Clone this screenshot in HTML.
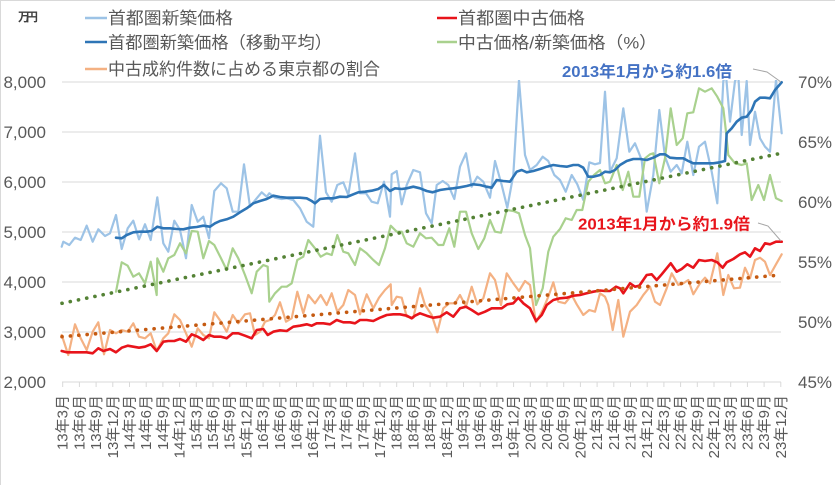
<!DOCTYPE html>
<html><head><meta charset="utf-8"><style>
html,body{margin:0;padding:0;background:#fff;}
svg{display:block;}
text{font-family:"Liberation Sans","Noto Sans CJK JP",sans-serif;}
</style></head><body>
<svg width="835" height="485" viewBox="0 0 835 485" xmlns="http://www.w3.org/2000/svg">
<rect x="0" y="0" width="835" height="485" fill="#fff"/>
<line x1="0" y1="0.5" x2="835" y2="0.5" stroke="#d9d9d9" stroke-width="1"/>
<line x1="0.5" y1="0" x2="0.5" y2="485" stroke="#d9d9d9" stroke-width="1"/>
<defs><clipPath id="pc"><rect x="58" y="80" width="730" height="305"/></clipPath></defs>
<g stroke="#d9d9d9" stroke-width="1">
<line x1="62" y1="82" x2="781" y2="82"/>
<line x1="62" y1="132" x2="781" y2="132"/>
<line x1="62" y1="182" x2="781" y2="182"/>
<line x1="62" y1="232" x2="781" y2="232"/>
<line x1="62" y1="282" x2="781" y2="282"/>
<line x1="62" y1="332" x2="781" y2="332"/>
<line x1="62" y1="382" x2="781" y2="382"/>
</g>
<g font-size="17" fill="#595959" text-anchor="end">
<text x="46" y="88">8,000</text>
<text x="46" y="138">7,000</text>
<text x="46" y="188">6,000</text>
<text x="46" y="238">5,000</text>
<text x="46" y="288">4,000</text>
<text x="46" y="338">3,000</text>
<text x="46" y="388">2,000</text>
</g>
<g font-size="17" fill="#595959">
<text x="798" y="88">70%</text>
<text x="798" y="148">65%</text>
<text x="798" y="208">60%</text>
<text x="798" y="268">55%</text>
<text x="798" y="328">50%</text>
<text x="798" y="388">45%</text>
</g>
<text x="18" y="21" font-size="12" font-weight="bold" fill="#404040" textLength="20">万円</text>
<g stroke-width="2.5">
<line x1="85" y1="18" x2="107" y2="18" stroke="#9DC3E6"/>
<line x1="85" y1="42" x2="107" y2="42" stroke="#2E75B6"/>
<line x1="85" y1="69" x2="107" y2="69" stroke="#F4B183"/>
<line x1="437" y1="18" x2="457" y2="18" stroke="#E8141B"/>
<line x1="437" y1="42" x2="457" y2="42" stroke="#A9D18E"/>
</g>
<g font-size="17" fill="#595959">
<text x="108" y="24" textLength="125" lengthAdjust="spacingAndGlyphs">首都圏新築価格</text>
<text x="108" y="48.5" textLength="224" lengthAdjust="spacingAndGlyphs">首都圏新築価格（移動平均）</text>
<text x="108" y="75" textLength="272" lengthAdjust="spacingAndGlyphs">中古成約件数に占める東京都の割合</text>
<text x="458" y="24" textLength="127" lengthAdjust="spacingAndGlyphs">首都圏中古価格</text>
<text x="458" y="48.5" textLength="199" lengthAdjust="spacingAndGlyphs">中古価格/新築価格（%）</text>
</g>
<g clip-path="url(#pc)" fill="none" stroke-linejoin="round" stroke-linecap="round">
<polyline stroke="#9DC3E6" stroke-width="2.2" points="61.7,246.7 63.3,241.7 69.3,245 75,237.7 80.7,240 86.7,225.7 92.7,241.7 98.3,229.3 105,236 110,233.3 116,215 121.7,249 127.7,228.3 133.3,220.7 139,239.3 145,224.3 150.7,240 157.3,197.3 163.3,243.3 168.3,251.7 174.3,220.7 180,230 186,258.3 191.7,205 197.7,221.7 203.3,216.7 209,238.3 214.3,191 221,183.3 226.7,188.3 232.7,211.7 238.3,211.7 244,164.3 250,206.7 256.7,198.3 261.7,192.3 266.7,196.7 269.3,193.3 275,197.7 281.7,199 286.7,198.3 293.3,200 300,208.3 306.7,221.7 313.3,226.7 320,135.7 326,192.3 331.7,201.7 337.3,185 343.3,182.3 348.3,195 355,153.3 360,193.3 366,193.3 371.7,201.7 377.7,203.3 384,181.7 390,216.7 391.7,174.3 396.7,171 401.7,204.3 406.7,185 413.3,170 420,172.3 426,213.3 431.7,223.3 436.7,185 442.7,181 448.3,185 454.3,199 460,166.7 466,153.3 471.7,186.7 477.3,176.7 483.3,181.7 490,197.7 495,161 501.7,185 507.3,207.7 513.3,175 519,80 525,155 530,170 536.7,165 542.7,156.7 548.3,161 554.3,175 560,180 565.7,191.7 571.7,175 577.3,184.3 583.3,200 589.3,162.3 595,164.3 600,163 605,91.7 610,171.7 616.7,158.3 623.3,108.3 629.3,151.7 635,143.3 641.7,160 646.7,211.7 653.3,175 659.3,110 665,156.7 670.7,171.7 676.7,165 681.7,173.3 687.3,141.7 693.3,175 699,146.7 705,141.7 711.7,171.7 717.3,203.3 723.3,81 726,75 730,121.7 735,81 738.3,75 741.7,135 746.7,81 750,145 755,111.7 760,138.3 765,146.7 770,151.7 776,80 781.7,133.3"/>
<polyline stroke="#F4B183" stroke-width="2.2" points="61.7,335 68.3,355 75,324.3 80.7,338.3 86.7,350 92.7,331.7 98.3,322.3 104,354.3 110,330 116,333.3 121.7,330 127.7,331.7 133.3,323.3 139,336.7 145,338.3 150.7,333.3 156.7,351 163.3,338.3 168.3,333.3 174.3,314.3 180,320 186,333.3 191.7,346.7 197.7,328.3 203.3,335 209,338.3 214.3,312.3 221,321.7 226.7,331.7 232.7,315 238.3,323.3 245,314.3 250,313.3 255,335 260,331.7 265,321.7 270,320 275,315 280,302.3 286,321.7 291.7,318.3 297.3,291.7 303.3,313.3 308.3,295 315,303.3 320.7,295 326.7,305 331.7,293.3 337.3,311.7 343.3,305 348.3,290 355,295 360,314.3 366.7,294.3 373.3,308.3 379,297.7 385,290 390.7,284.3 391.7,305 396.7,296.7 401.7,297.7 406.7,316.7 413.3,317.7 420,288.3 425,305 431.7,315 437.3,332.3 443.3,308.3 449.3,303.3 455,303.3 460,295 466,306.7 471.7,286.7 477.3,304.3 483.3,298.3 490,273.3 495,280 501,305 506.7,273.3 513.3,283.3 519,291 525,281 530,285 536,322.3 542.7,310 548.3,296.7 553.3,282.3 558.3,301.7 565,303.3 571.7,295 576.7,304.3 583.3,315 589.3,310 595,311.7 600,293.3 605,296.7 608.3,305 612.7,330 618.3,300 623.3,336.7 630,311.7 636.7,305 643.3,295 650,286.7 655,301.7 660,305 666.7,288.3 671.7,273.3 678.3,285 683.3,283.3 688.3,280 693.3,294.3 700,283.3 705,277.7 710,283.3 717.3,253.3 723.3,295 728.3,275 734,288.3 740,287.7 745,267.7 750,278.3 755,260 760,257.7 765,261.7 770,275 776,264.3 781.7,254.3"/>
<polyline stroke="#A9D18E" stroke-width="2.2" points="116,291.7 121.7,262.3 127.7,265.7 133.3,276.7 139,273.3 145,283.3 150.7,261.7 156.7,295 157.3,258.3 163.3,271.7 168.3,258.3 174.3,255 180,243.3 186,253.3 191.7,231 197.7,231.7 203.3,258.3 209,241 214.3,245 221,258.3 226.7,270 232.7,248.3 238.3,258.3 245,275 251.7,293.3 256.7,271.7 263.3,265 267.7,266.7 269.3,301.7 275,293.3 281.7,286.7 286.7,286.7 291.7,283.3 297.3,260 303.3,256.7 308.3,240 315,248.3 320.7,256.7 326.7,253.3 331.7,255 337.3,235 343.3,251.7 348.3,253.3 355,265 360,248.3 366.7,253.3 373.3,260 379,265 385,248.3 390.7,225.7 396.7,231.7 401.7,231.7 406.7,243.3 413.3,246.7 420,233.3 426,238.3 431.7,237.7 438.3,245 443.3,245 449.3,228.3 454.3,246.7 460,211.7 466,211.7 471.7,233.3 478.3,249 484.3,238.3 490,220 495,231.7 501,232.7 506.7,210 513.3,211 519,213.3 525,235 530,248.3 536,305 542.7,288.3 548.3,251.7 553.3,236.7 560,229 565.7,218.3 571.7,220 576.7,210 582.3,210 588.3,181.7 594,175 600,170 605,183.3 610,181.7 616.7,165 622.7,190 628.3,171.7 633.3,196.7 639.3,196.7 645,158.3 650,154.3 653.3,153.3 659.3,183.3 665,158.3 670.7,108.3 676.7,145 682.7,138.3 687.3,113.3 693.3,112.3 699,88.3 705,91.7 711.7,88.3 717.3,96.7 723.3,108.3 726,131.7 728.3,155 735,163.3 741.7,165 746.7,163.3 751.7,200 758.3,185 764,200 770,175 776,198.3 781.7,201"/>
<polyline stroke="#E8141B" stroke-width="2.6" points="61.7,351 66.7,352.3 73.3,352.3 80,352.3 86.7,352.3 92.7,353.3 98.3,348.3 103.3,351 110,349 116,352.3 121.7,347.7 127.7,345.7 133.3,346.7 139,347.7 145,346.7 150.7,344.3 156.7,351 163.3,341.7 168.3,341 174.3,341 180,339 186,341.7 191.7,334.3 197.7,336.7 203.3,340 209,335 214.3,336.7 221,336.7 226.7,338.3 232.7,333.3 238.3,333.3 245,335.7 251.7,338.3 256.7,330 263.3,329 267.7,335 273.3,331.7 280,330.3 286.7,331 293.3,326.7 300,325.7 306.7,324.3 311.7,325.7 316.7,323.3 323.3,323.3 330,324.3 336.7,320 343.3,322.3 350,322.3 355,323.3 360,320 366.7,320 373.3,321 380,317.7 386.7,315 393.3,314.3 400,314.3 406.7,315.7 411.7,318.3 415,315.7 420,313.3 426.7,315.7 433.3,317.7 440,316.7 446.7,312.3 453.3,316.7 460,308.3 466,306.7 471.7,310 478.3,314.3 485,311.7 491.7,308.3 496.7,308.3 501.7,308.3 507.3,304.3 513.3,303.3 518.3,297.7 523.3,303.3 530,308.3 536,321 541.7,315 546.7,305 553.3,300 560,298.3 566.7,297.7 573.3,295.7 580,295 586.7,293.3 593.3,291.7 600,290.5 605,291 610,291 616,286.7 620,288.3 623.3,293.3 630,283.3 635,286.7 639.3,285.7 646.7,275 651.7,274.3 656.7,280 661.7,274.3 670.7,263.3 676.7,271.7 681.7,269 687.3,264.3 693.3,267.7 699,260 705,261 711.7,260 717.3,262.3 722.7,267.7 726.7,262.3 733.3,259 740,254.3 745,252.3 750,256.7 755,248.3 760,251 765,243.3 770,244.3 776,241.7 781.7,241.7"/>
<polyline stroke="#2E75B6" stroke-width="2.6" points="116,237.7 121.7,238.3 126.7,235 133.3,232.3 140,231.7 146.7,231.7 151.7,231 157.3,226.7 163.3,228.3 170,228.3 176.7,229 183.3,229.3 190,227.7 196.7,227 203.3,225.7 210,226.7 215,223.3 220,221 226.7,219.3 233.3,216.7 240,212.3 246.7,208.3 253.3,203.3 260,201 266.7,199 273.3,195.7 280,197 286.7,197.7 293.3,197.7 300,197.7 306.7,198.3 311.7,201 315,203.3 320,199 326.7,198.3 333.3,198.3 340,196.7 346.7,197 353.3,194.3 358.3,192.3 365,191.7 371.7,190.7 378.3,189 384,185 390,191 395,188.3 401.7,189 406.7,188.3 413.3,186.7 420,188.3 426.7,191 432.7,192.3 440,190 446.7,189 453.3,188.3 460,187.3 466.7,186 473.3,184.3 480,185 486.7,186.7 491.7,187.7 496.7,180 503.3,181 510,181.7 516.7,171.7 521.7,170 526.7,172.3 533.3,171 540,169 546.7,166.7 553.3,165 560,166 566.7,166.7 573.3,165 578.3,165 583.3,167.7 588.3,176.7 593.3,176.7 600,175 605,171.7 610,172.3 615,170 620,165 626.7,161 633.3,159 640,159 646.7,160 653.3,157.7 660,154.3 665,154.3 670,157.7 676.7,158.3 683.3,158.3 688.3,161 693.3,163.3 700,163.3 706.7,163.3 713.3,163.3 720,162.3 725,161 726.7,133.3 731.7,128.3 736.7,121.7 741.7,117.7 746.7,116.7 751.7,110 755,101.7 760,97.7 765,97.7 770,98.3 775,90 781.7,82.3"/>
<line x1="62" y1="303.3" x2="781" y2="153.3" stroke="#548235" stroke-width="3.6" stroke-dasharray="0.1 8.3"/>
<line x1="62" y1="336.7" x2="781" y2="275" stroke="#C55A11" stroke-width="3.6" stroke-dasharray="0.1 8.3"/>
</g>
<polyline points="753,69 767,72 781,82" fill="none" stroke="#A6A6A6" stroke-width="1"/>
<polyline points="758,223 768,226 781,241" fill="none" stroke="#A6A6A6" stroke-width="1"/>
<text x="562" y="77" font-size="16" font-weight="bold" fill="#4472C4" textLength="170" lengthAdjust="spacingAndGlyphs">2013年1月から約1.6倍</text>
<text x="578" y="229.5" font-size="16" font-weight="bold" fill="#E8141B" textLength="172" lengthAdjust="spacingAndGlyphs">2013年1月から約1.9倍</text>
<g stroke="#d9d9d9" stroke-width="1">
<line x1="62.7" y1="382" x2="62.7" y2="387"/><line x1="79.4" y1="382" x2="79.4" y2="387"/><line x1="96.1" y1="382" x2="96.1" y2="387"/><line x1="112.8" y1="382" x2="112.8" y2="387"/><line x1="129.5" y1="382" x2="129.5" y2="387"/><line x1="146.2" y1="382" x2="146.2" y2="387"/><line x1="162.9" y1="382" x2="162.9" y2="387"/><line x1="179.6" y1="382" x2="179.6" y2="387"/><line x1="196.3" y1="382" x2="196.3" y2="387"/><line x1="213" y1="382" x2="213" y2="387"/><line x1="229.7" y1="382" x2="229.7" y2="387"/><line x1="246.4" y1="382" x2="246.4" y2="387"/><line x1="263.1" y1="382" x2="263.1" y2="387"/><line x1="279.8" y1="382" x2="279.8" y2="387"/><line x1="296.5" y1="382" x2="296.5" y2="387"/><line x1="313.2" y1="382" x2="313.2" y2="387"/><line x1="329.9" y1="382" x2="329.9" y2="387"/><line x1="346.6" y1="382" x2="346.6" y2="387"/><line x1="363.3" y1="382" x2="363.3" y2="387"/><line x1="380" y1="382" x2="380" y2="387"/><line x1="396.7" y1="382" x2="396.7" y2="387"/><line x1="413.4" y1="382" x2="413.4" y2="387"/><line x1="430.1" y1="382" x2="430.1" y2="387"/><line x1="446.8" y1="382" x2="446.8" y2="387"/><line x1="463.5" y1="382" x2="463.5" y2="387"/><line x1="480.2" y1="382" x2="480.2" y2="387"/><line x1="496.9" y1="382" x2="496.9" y2="387"/><line x1="513.6" y1="382" x2="513.6" y2="387"/><line x1="530.3" y1="382" x2="530.3" y2="387"/><line x1="547" y1="382" x2="547" y2="387"/><line x1="563.7" y1="382" x2="563.7" y2="387"/><line x1="580.4" y1="382" x2="580.4" y2="387"/><line x1="597.1" y1="382" x2="597.1" y2="387"/><line x1="613.8" y1="382" x2="613.8" y2="387"/><line x1="630.5" y1="382" x2="630.5" y2="387"/><line x1="647.2" y1="382" x2="647.2" y2="387"/><line x1="663.9" y1="382" x2="663.9" y2="387"/><line x1="680.6" y1="382" x2="680.6" y2="387"/><line x1="697.3" y1="382" x2="697.3" y2="387"/><line x1="714" y1="382" x2="714" y2="387"/><line x1="730.7" y1="382" x2="730.7" y2="387"/><line x1="747.4" y1="382" x2="747.4" y2="387"/><line x1="764.1" y1="382" x2="764.1" y2="387"/><line x1="780.8" y1="382" x2="780.8" y2="387"/>
</g>
<g font-size="15" fill="#595959" text-anchor="end" dominant-baseline="central">
<text transform="translate(63.2,395) rotate(-90)">13年3月</text>
<text transform="translate(79.9,395) rotate(-90)">13年6月</text>
<text transform="translate(96.6,395) rotate(-90)">13年9月</text>
<text transform="translate(113.3,395) rotate(-90)">13年12月</text>
<text transform="translate(130,395) rotate(-90)">14年3月</text>
<text transform="translate(146.7,395) rotate(-90)">14年6月</text>
<text transform="translate(163.4,395) rotate(-90)">14年9月</text>
<text transform="translate(180.1,395) rotate(-90)">14年12月</text>
<text transform="translate(196.8,395) rotate(-90)">15年3月</text>
<text transform="translate(213.5,395) rotate(-90)">15年6月</text>
<text transform="translate(230.2,395) rotate(-90)">15年9月</text>
<text transform="translate(246.9,395) rotate(-90)">15年12月</text>
<text transform="translate(263.6,395) rotate(-90)">16年3月</text>
<text transform="translate(280.3,395) rotate(-90)">16年6月</text>
<text transform="translate(297,395) rotate(-90)">16年9月</text>
<text transform="translate(313.7,395) rotate(-90)">16年12月</text>
<text transform="translate(330.4,395) rotate(-90)">17年3月</text>
<text transform="translate(347.1,395) rotate(-90)">17年6月</text>
<text transform="translate(363.8,395) rotate(-90)">17年9月</text>
<text transform="translate(380.5,395) rotate(-90)">17年12月</text>
<text transform="translate(397.2,395) rotate(-90)">18年3月</text>
<text transform="translate(413.9,395) rotate(-90)">18年6月</text>
<text transform="translate(430.6,395) rotate(-90)">18年9月</text>
<text transform="translate(447.3,395) rotate(-90)">18年12月</text>
<text transform="translate(464,395) rotate(-90)">19年3月</text>
<text transform="translate(480.7,395) rotate(-90)">19年6月</text>
<text transform="translate(497.4,395) rotate(-90)">19年9月</text>
<text transform="translate(514.1,395) rotate(-90)">19年12月</text>
<text transform="translate(530.8,395) rotate(-90)">20年3月</text>
<text transform="translate(547.5,395) rotate(-90)">20年6月</text>
<text transform="translate(564.2,395) rotate(-90)">20年9月</text>
<text transform="translate(580.9,395) rotate(-90)">20年12月</text>
<text transform="translate(597.6,395) rotate(-90)">21年3月</text>
<text transform="translate(614.3,395) rotate(-90)">21年6月</text>
<text transform="translate(631,395) rotate(-90)">21年9月</text>
<text transform="translate(647.7,395) rotate(-90)">21年12月</text>
<text transform="translate(664.4,395) rotate(-90)">22年3月</text>
<text transform="translate(681.1,395) rotate(-90)">22年6月</text>
<text transform="translate(697.8,395) rotate(-90)">22年9月</text>
<text transform="translate(714.5,395) rotate(-90)">22年12月</text>
<text transform="translate(731.2,395) rotate(-90)">23年3月</text>
<text transform="translate(747.9,395) rotate(-90)">23年6月</text>
<text transform="translate(764.6,395) rotate(-90)">23年9月</text>
<text transform="translate(781.3,395) rotate(-90)">23年12月</text>
</g>
</svg>
</body></html>
